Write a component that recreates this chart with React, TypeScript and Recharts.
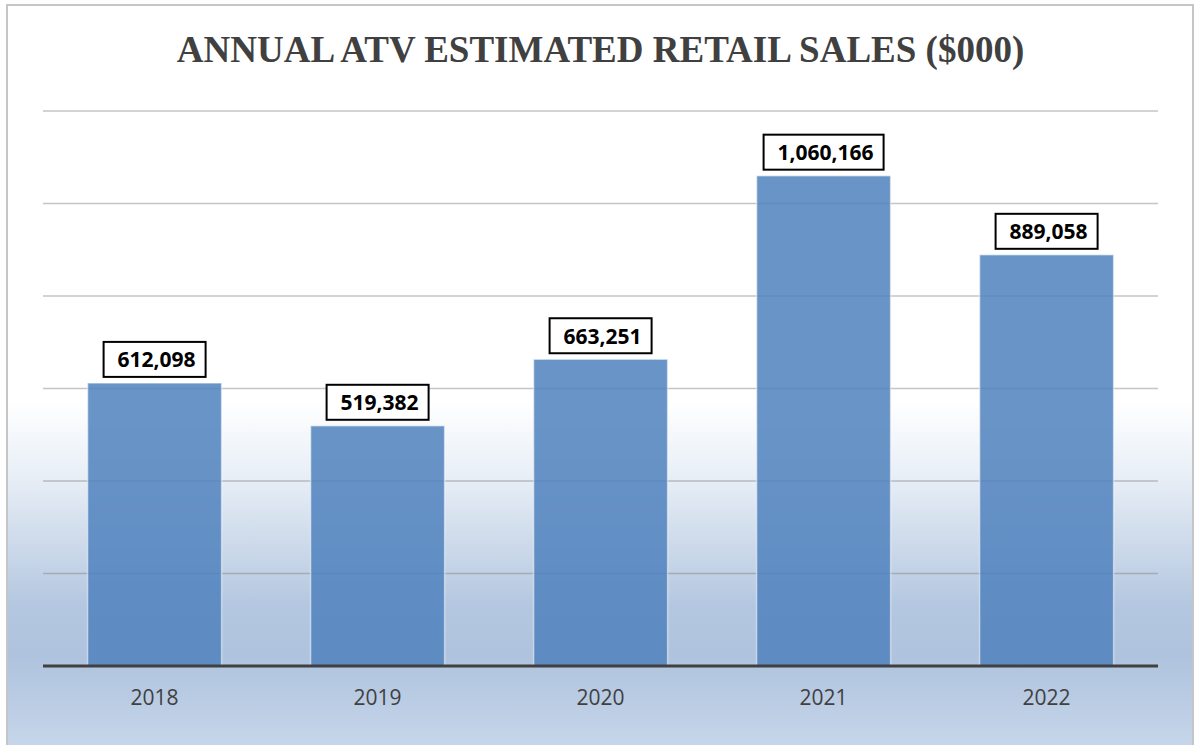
import React from 'react';
import { BarChart, Bar, XAxis, YAxis, CartesianGrid, LabelList } from 'recharts';

const years = ['2018', '2019', '2020', '2021', '2022'];
const sales = [612098, 519382, 663251, 1060166, 889058];
const yTicks = [0, 200000, 400000, 600000, 800000, 1000000, 1200000];
const title = 'ANNUAL ATV ESTIMATED RETAIL SALES ($000)';

const data = years.map((y, i) => ({ year: y, value: sales[i] }));

const fmt = (v: number) => v.toLocaleString('en-US');

const BoxLabel = (props: any) => {
  const { x, y, width, value } = props;
  const s = fmt(value);
  const w = s.length * 9 + 39;
  const h = 35;
  const cx = x + width / 2;
  const bottom = y - 6;
  return (
    <g>
      <rect x={cx - w / 2} y={bottom - h} width={w} height={h} fill="#ffffff" stroke="#000000" strokeWidth={2} />
      <text
        x={cx + 2}
        y={bottom - h / 2}
        textAnchor="middle"
        dominantBaseline="central"
        fontFamily="'Open Sans', 'Noto Sans', sans-serif"
        fontWeight={700}
        fontSize={21}
        fill="#000000"
      >
        {s}
      </text>
    </g>
  );
};

export default function App() {
  return (
    <div style={{ position: 'absolute', left: 0, top: 0, width: 1195, height: 745, overflow: 'hidden', background: '#ffffff' }}>
      <div
        style={{
          position: 'absolute',
          left: 6,
          top: 4,
          width: 1184,
          height: 760,
          border: '2px solid #c6c6c6',
          background:
            'linear-gradient(to bottom, #ffffff 0px, #ffffff 395px, #eaf0f7 465px, #b4c7e0 600px, #afc3de 650px, #c6d6ea 740px)',
        }}
      />
      <div
        style={{
          position: 'absolute',
          left: 0,
          top: 26,
          width: 1201,
          textAlign: 'center',
          fontFamily: "'Liberation Serif', 'Times New Roman', serif",
          fontWeight: 700,
          fontSize: 37,
          color: '#404040',
          lineHeight: '48px',
        }}
      >
        {title}
      </div>
      <div style={{ position: 'absolute', left: 0, top: 0 }}>
        <BarChart
          width={1195}
          height={745}
          data={data}
          margin={{ top: 111, right: 37, left: 43, bottom: 49 }}
          barCategoryGap="20%"
        >
          <CartesianGrid vertical={false} stroke="#7f7f7f" strokeOpacity={0.45} strokeWidth={1.5} />
          <YAxis hide domain={[0, 1200000]} ticks={yTicks} width={0} />
          <XAxis
            dataKey="year"
            height={30}
            axisLine={{ stroke: '#404040', strokeWidth: 3 }}
            tickLine={false}
            tickMargin={18}
            tick={{ fill: '#404040', fontSize: 21, fontFamily: "'Open Sans', 'Noto Sans', sans-serif" }}
          />
          <Bar
            dataKey="value"
            fill="#4f81bd"
            fillOpacity={0.85}
            stroke="#ffffff"
            strokeOpacity={0.5}
            strokeWidth={1.5}
            isAnimationActive={false}
          >
            <LabelList dataKey="value" content={BoxLabel} />
          </Bar>
        </BarChart>
      </div>
    </div>
  );
}
